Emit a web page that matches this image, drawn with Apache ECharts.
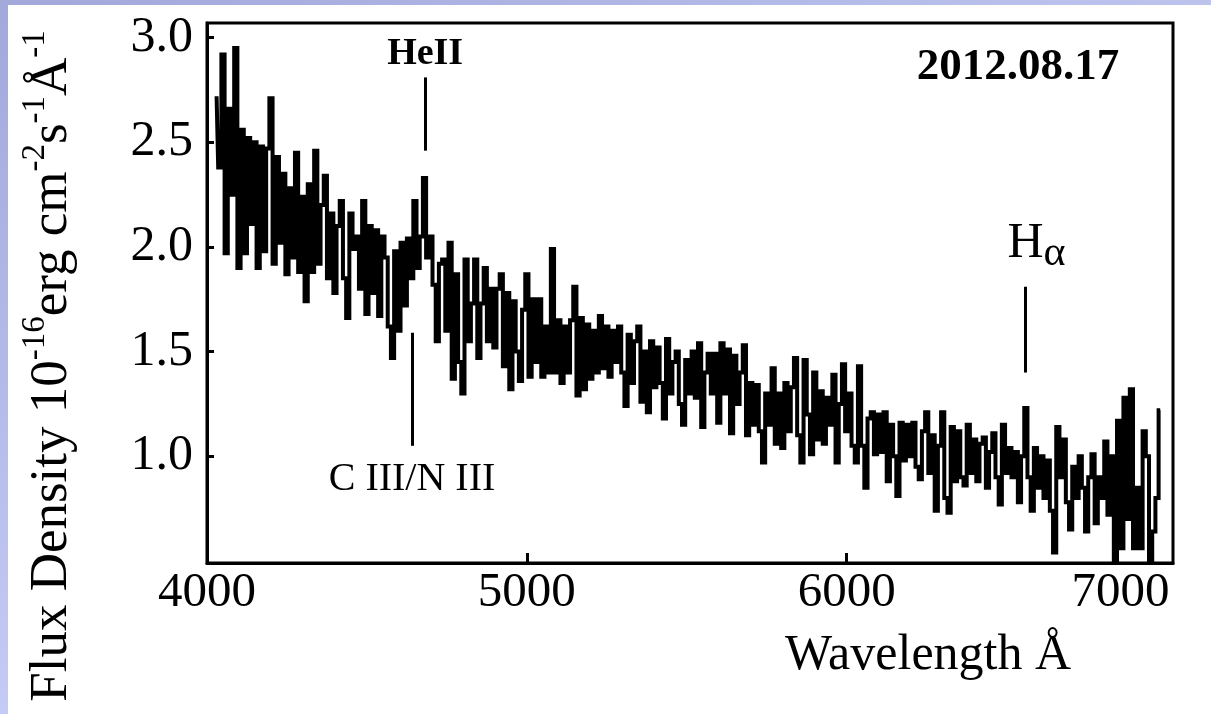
<!DOCTYPE html>
<html>
<head>
<meta charset="utf-8">
<script src="https://cdn.jsdelivr.net/npm/echarts@6/dist/echarts.min.js"></script>
<style>
  html, body { margin: 0; padding: 0; background: #fff; }
  #container { width: 1211px; height: 714px; }
</style>
</head>
<body>
<div id="container"></div>
<script>
var startWl = 4030
var stepWl = 10
var flux = [
  2.72, 2.38, 2.92, 1.97, 2.66, 2.25, 2.95,
  1.90, 2.56, 1.97, 2.52, 2.11, 2.50, 1.90, 2.48, 1.98, 2.47,
  2.71, 1.92, 2.43, 2.02, 2.35, 1.87, 2.28, 1.95, 2.45, 1.88,
  2.24, 1.74, 2.30, 1.88, 2.46, 1.92, 2.20, 2.34, 1.85, 2.16,
  1.78, 2.10, 2.22, 1.85, 1.66, 2.16, 1.99, 2.05, 1.80, 2.22,
  1.68, 2.10, 1.78, 2.08, 1.67, 2.05, 1.95, 1.62, 1.47, 1.98,
  1.60, 2.02, 1.72, 2.04, 1.85, 2.22, 1.90, 2.05, 2.33, 1.95,
  2.05, 1.82, 1.55, 1.92, 1.94, 1.60, 2.02, 1.37, 1.87, 1.45,
  1.30, 1.94, 1.55, 1.73, 1.94, 1.47, 1.73, 1.90, 1.55, 1.80,
  1.52, 1.80, 1.87, 1.43, 1.78, 1.32, 1.74, 1.50, 1.36, 1.70,
  1.87, 1.38, 1.75, 1.45, 1.75, 1.38, 1.62, 1.40, 1.99, 1.40,
  1.65, 1.35, 1.62, 1.40, 1.65, 1.81, 1.29, 1.66, 1.32, 1.63,
  1.37, 1.60, 1.40, 1.67, 1.42, 1.62, 1.38, 1.60, 1.45, 1.62,
  1.40, 1.24, 1.58, 1.35, 1.55, 1.62, 1.26, 1.50, 1.21, 1.55,
  1.33, 1.52, 1.35, 1.18, 1.56, 1.30, 1.45, 1.50, 1.25, 1.15,
  1.46, 1.30, 1.50, 1.28, 1.54, 1.14, 1.40, 1.49, 1.30, 1.49,
  1.16, 1.54, 1.30, 1.51, 1.11, 1.48, 1.25, 1.40, 1.53, 1.10,
  1.35, 1.15, 1.34, 1.12, 0.97, 1.30, 1.15, 1.42, 1.06, 1.30,
  1.04, 1.35, 1.12, 1.33, 1.47, 1.10, 0.97, 1.46, 1.20, 1.01,
  1.40, 1.08, 1.31, 1.06, 1.28, 1.15, 1.39, 0.97, 1.25, 1.44,
  1.12, 1.30, 1.05, 0.97, 1.43, 1.05, 0.85, 1.18, 1.21, 1.01,
  1.20, 1.02, 1.21, 0.88, 1.15, 1.00, 0.81, 1.16, 0.98, 1.15,
  1.00, 1.16, 0.95, 0.89, 1.12, 1.21, 0.92, 1.10, 0.74, 1.05,
  1.21, 0.80, 0.73, 1.14, 0.88, 1.12, 0.90, 0.86, 1.15, 0.92,
  1.08, 0.88, 1.06, 1.09, 0.85, 1.02, 1.11, 0.90, 0.77, 1.15,
  0.92, 1.04, 0.90, 1.02, 0.78, 1.00, 1.23, 0.90, 0.74, 1.04,
  0.85, 1.00, 0.80, 0.98, 0.74, 0.54, 1.14, 0.90, 1.08, 0.78,
  0.65, 0.95, 0.80, 1.00, 0.85, 0.64, 0.90, 1.01, 0.68, 0.90,
  0.80, 1.07, 0.72, 1.00, 0.50, 1.17, 0.56, 1.28, 0.70, 1.32,
  0.56, 0.85, 0.56, 1.12, 1.00, 0.50, 0.64, 0.80, 1.22
]

// marked emission lines: position and the ends of the short marker
var lineNames = ['HeII', 'C III/N III', 'Hα']
var lineWl = [4682, 4641, 6559]
var lineFrom = [2.46, 1.59, 1.40]
var lineTo = [2.81, 1.05, 1.81]

var xTickValues = [5000, 6000]
var xLabelValues = [4000, 5000, 6000, 7000]
var yLabelValues = [1.0, 1.5, 2.0, 2.5, 3.0]

var serif = '"Liberation Serif", "DejaVu Serif", serif'

var dom = document.getElementById('container')
var myChart = echarts.init(dom, null, { renderer: 'canvas' })

var seriesData = flux.map(function (v, i) {
    return [startWl + i * stepWl, v]
})

var labelStyles = [
    { fontSize: 38, fontWeight: 'bold', distance: 4 },
    { fontSize: 40, fontWeight: 'normal', distance: 14 },
    { fontSize: 50, fontWeight: 'normal', distance: 12 }
]
var markData = lineNames.map(function (name, i) {
    var st = labelStyles[i]
    var label = {
        show: true,
        position: 'end',
        distance: st.distance,
        color: '#000',
        fontFamily: serif,
        fontSize: st.fontSize,
        fontWeight: st.fontWeight,
        formatter: name
    }
    if (name === 'Hα') {
        label.formatter = '{h|H}{a|α}'
        label.rich = {
            h: { fontFamily: serif, fontSize: 50, color: '#000', lineHeight: 62, verticalAlign: 'middle', padding: [0, 0, 0, 22] },
            a: { fontFamily: serif, fontSize: 42, color: '#000', lineHeight: 62, verticalAlign: 'bottom' }
        }
    }
    return [
        { name: name, coord: [lineWl[i], lineFrom[i]], label: label },
        { coord: [lineWl[i], lineTo[i]] }
    ]
})

var option = {
    animation: false,
    backgroundColor: '#fff',
    grid: {
        left: 207, right: 38, top: 23, bottom: 151,
        show: true, borderColor: '#000', borderWidth: 3,
        backgroundColor: 'transparent'
    },
    xAxis: {
        type: 'value',
        min: 4000,
        max: 7020,
        axisLine: { show: true, onZero: false, lineStyle: { color: '#000', width: 3 } },
        axisTick: {
            show: true, inside: true, length: 10,
            customValues: xTickValues,
            lineStyle: { color: '#000', width: 3 }
        },
        axisLabel: {
            customValues: xLabelValues,
            margin: 6,
            color: '#000',
            fontFamily: serif,
            fontSize: 49,
            formatter: function (v) {
                return v === 7000 ? '{r|7000}' : String(v)
            },
            rich: {
                r: { fontFamily: serif, fontSize: 49, color: '#000', padding: [0, 92, 0, 0] }
            }
        },
        splitLine: { show: false }
    },
    yAxis: {
        type: 'value',
        min: 0.49,
        max: 3.07,
        axisLine: { show: true, onZero: false, lineStyle: { color: '#000', width: 3 } },
        axisTick: {
            show: true, inside: true, length: 7,
            customValues: yLabelValues,
            lineStyle: { color: '#000', width: 3 }
        },
        axisLabel: {
            customValues: yLabelValues,
            margin: 14,
            color: '#000',
            fontFamily: serif,
            fontSize: 50,
            formatter: function (v) { return v.toFixed(1) }
        },
        splitLine: { show: false }
    },
    graphic: [
        // slide background strips
        {
            type: 'rect', left: 0, top: 0, z: 0,
            shape: { width: 1211, height: 5 },
            style: {
                fill: new echarts.graphic.LinearGradient(0, 0, 1, 0, [
                    { offset: 0, color: '#a2a8da' },
                    { offset: 1, color: '#bcc4ee' }
                ])
            }
        },
        {
            type: 'rect', left: 0, top: 0, z: 0,
            shape: { width: 8, height: 714 },
            style: {
                fill: new echarts.graphic.LinearGradient(0, 0, 0, 1, [
                    { offset: 0, color: '#a2a8da' },
                    { offset: 1, color: '#c4cbf4' }
                ])
            }
        },
        {
            type: 'text',
            x: 52, y: 366,
            rotation: Math.PI / 2,
            style: {
                text: 'Flux Density 10{s|-16}erg cm{s|-2}s{s|-1}Å{s|-1}',
                fill: '#000',
                font: '53px "Liberation Serif"',
                align: 'center',
                verticalAlign: 'middle',
                rich: {
                    s: { fontFamily: serif, fontSize: 33, fill: '#000', verticalAlign: 'top', lineHeight: 66 }
                },
                lineHeight: 66
            }
        },
        {
            type: 'text',
            x: 928, y: 656,
            style: {
                text: 'Wavelength Å',
                fill: '#000',
                font: '50px "Liberation Serif"',
                align: 'center',
                verticalAlign: 'middle'
            }
        },
        {
            type: 'text',
            x: 1018, y: 67,
            style: {
                text: '2012.08.17',
                fill: '#000',
                font: 'bold 45px "Liberation Serif"',
                align: 'center',
                verticalAlign: 'middle'
            }
        }
    ],
    series: [
        {
            type: 'line',
            data: seriesData,
            step: 'middle',
            symbol: 'none',
            silent: true,
            lineStyle: { color: '#000', width: 4, join: 'miter', cap: 'butt' },
            markLine: {
                silent: true,
                symbol: ['none', 'none'],
                lineStyle: { color: '#000', width: 3, type: 'solid' },
                data: markData
            }
        }
    ]
}

myChart.setOption(option)
window.addEventListener('resize', myChart.resize)
</script>
</body>
</html>
